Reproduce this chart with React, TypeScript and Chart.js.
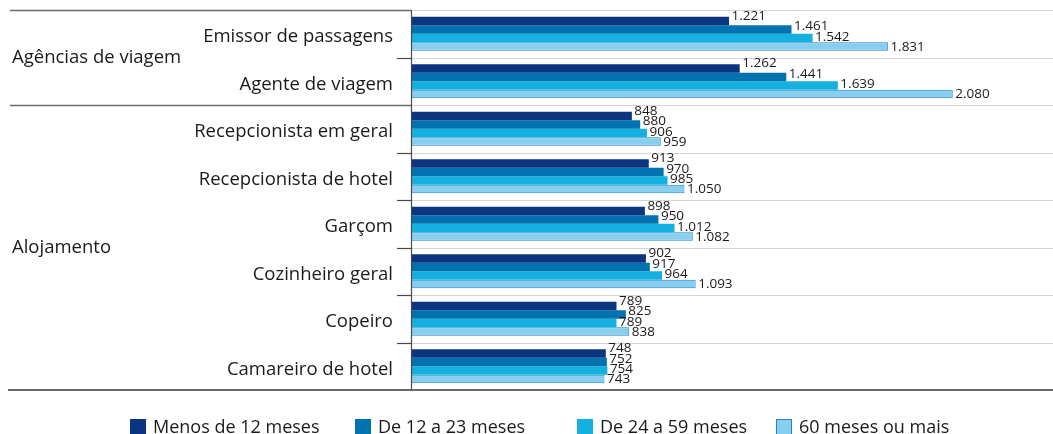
import React, { useEffect, useRef } from "react";
import { Chart, registerables } from "chart.js";
Chart.register(...registerables);

const categories = [
  "Emissor de passagens",
  "Agente de viagem",
  "Recepcionista em geral",
  "Recepcionista de hotel",
  "Garçom",
  "Cozinheiro geral",
  "Copeiro",
  "Camareiro de hotel",
];
const groupLabels = ["Agências de viagem", "Alojamento"];
const groupStarts = [0, 2];
const groupEnds = [1, 7];

const seriesLabels = ["Menos de 12 meses", "De 12 a 23 meses", "De 24 a 59 meses", "60 meses ou mais"];
const menos12 = [1221, 1262, 848, 913, 898, 902, 789, 748];
const de12a23 = [1461, 1441, 880, 970, 950, 917, 825, 752];
const de24a59 = [1542, 1639, 906, 985, 1012, 964, 789, 754];
const mais60 = [1831, 2080, 959, 1050, 1082, 1093, 838, 743];

const seriesColors = ["#0c357f", "#0072b0", "#14b0df", "#88cfef"];
const seriesBorders = ["#0c357f", "#0072b0", "#14b0df", "#2184c4"];
const labelDy = [-5, -3, -1, 0.5];
const legendX = [130, 355, 577, 776];

const FONT = '"Open Sans", "Noto Sans", sans-serif';

function fmt(n: number): string {
  if (n >= 1000) return Math.floor(n / 1000) + "." + String(n % 1000).padStart(3, "0");
  return String(n);
}

const decorPlugin = {
  id: "decor",
  beforeDatasetsDraw(chart: any) {
    const { ctx, chartArea } = chart;
    const ys = chart.scales.y;
    const step = ys.getPixelForValue(1) - ys.getPixelForValue(0);
    ctx.save();
    ctx.strokeStyle = "#d4d4d4";
    ctx.lineWidth = 1;
    for (let i = 0; i < categories.length; i++) {
      const y = Math.round(ys.getPixelForValue(i) - step / 2) + 0.5;
      ctx.beginPath();
      ctx.moveTo(chartArea.left, y);
      ctx.lineTo(chartArea.right, y);
      ctx.stroke();
    }
    ctx.restore();
  },
  afterDatasetsDraw(chart: any) {
    const { ctx, chartArea } = chart;
    const ys = chart.scales.y;
    const step = ys.getPixelForValue(1) - ys.getPixelForValue(0);
    const edge = (i: number) => ys.getPixelForValue(i) - step / 2;
    ctx.save();
    // data labels
    ctx.font = "13.5px " + FONT;
    ctx.fillStyle = "#1a1a1a";
    ctx.textBaseline = "middle";
    ctx.textAlign = "left";
    chart.data.datasets.forEach((ds: any, di: number) => {
      const meta = chart.getDatasetMeta(di);
      meta.data.forEach((bar: any, i: number) => {
        ctx.fillText(fmt(ds.data[i]), bar.x + 2.5, bar.y + labelDy[di]);
      });
    });
    // axis line
    ctx.strokeStyle = "#4a4a4a";
    ctx.lineWidth = 1.2;
    const ax = Math.round(chartArea.left) + 0.5;
    ctx.beginPath();
    ctx.moveTo(ax, chartArea.top);
    ctx.lineTo(ax, chartArea.bottom);
    ctx.stroke();
    // ticks inside groups
    const groupEdges = new Set<number>();
    groupStarts.forEach((s) => groupEdges.add(s));
    groupEnds.forEach((e) => groupEdges.add(e + 1));
    ctx.lineWidth = 1.2;
    for (let i = 1; i < categories.length; i++) {
      if (groupEdges.has(i)) continue;
      const y = Math.round(edge(i)) + 0.5;
      ctx.beginPath();
      ctx.moveTo(chartArea.left - 14, y);
      ctx.lineTo(chartArea.left, y);
      ctx.stroke();
    }
    // group separators
    ctx.strokeStyle = "#6a6a6a";
    ctx.lineWidth = 1.5;
    groupStarts.forEach((s) => {
      const y = Math.round(edge(s)) + 0.5;
      ctx.beginPath();
      ctx.moveTo(10, y);
      ctx.lineTo(chartArea.left, y);
      ctx.stroke();
    });
    ctx.lineWidth = 2;
    ctx.beginPath();
    ctx.moveTo(8, Math.round(chartArea.bottom));
    ctx.lineTo(chartArea.right, Math.round(chartArea.bottom));
    ctx.stroke();
    // category labels
    ctx.font = "18.5px " + FONT;
    ctx.fillStyle = "#1a1a1a";
    ctx.textAlign = "right";
    ctx.textBaseline = "middle";
    categories.forEach((c, i) => {
      ctx.fillText(c, chartArea.left - 18, ys.getPixelForValue(i) + 3);
    });
    // group labels
    ctx.textAlign = "left";
    groupLabels.forEach((g, k) => {
      const yc = (edge(groupStarts[k]) + edge(groupEnds[k] + 1)) / 2;
      ctx.fillText(g, 12, yc);
    });
    // legend
    ctx.font = "18px " + FONT;
    const ly = 427;
    seriesLabels.forEach((s, k) => {
      const x = legendX[k];
      ctx.fillStyle = seriesColors[k];
      ctx.fillRect(x, ly - 8, 16, 16);
      if (k === 3) {
        ctx.strokeStyle = seriesBorders[k];
        ctx.lineWidth = 1;
        ctx.strokeRect(x + 0.5, ly - 7.5, 15, 15);
      }
      ctx.fillStyle = "#1a1a1a";
      ctx.textAlign = "left";
      ctx.fillText(s, x + 23, ly + 1);
    });
    ctx.restore();
  },
};

export default function App() {
  const ref = useRef<HTMLCanvasElement | null>(null);
  useEffect(() => {
    if (!ref.current) return;
    const series = [menos12, de12a23, de24a59, mais60];
    const chart = new Chart(ref.current, {
      type: "bar",
      data: {
        labels: categories,
        datasets: series.map((d, k) => ({
          label: seriesLabels[k],
          data: d,
          backgroundColor: seriesColors[k],
          borderColor: seriesBorders[k],
          borderWidth: k === 3 ? 1 : 0,
          barPercentage: 1,
          categoryPercentage: 0.716,
        })),
      },
      options: {
        indexAxis: "y",
        responsive: false,
        animation: false,
        devicePixelRatio: 1,
        layout: { padding: { left: 411, right: 0, top: 10, bottom: 44 } },
        plugins: { legend: { display: false }, tooltip: { enabled: false } },
        scales: {
          x: { display: false, min: 0, max: 2465 },
          y: { display: false },
        },
      },
      plugins: [decorPlugin],
    });
    return () => chart.destroy();
  }, []);
  return (
    <div style={{ position: "fixed", left: 0, top: 0, width: 1053, height: 434, background: "#fff" }}>
      <canvas ref={ref} width={1053} height={434} style={{ width: 1053, height: 434, display: "block" }} />
    </div>
  );
}
